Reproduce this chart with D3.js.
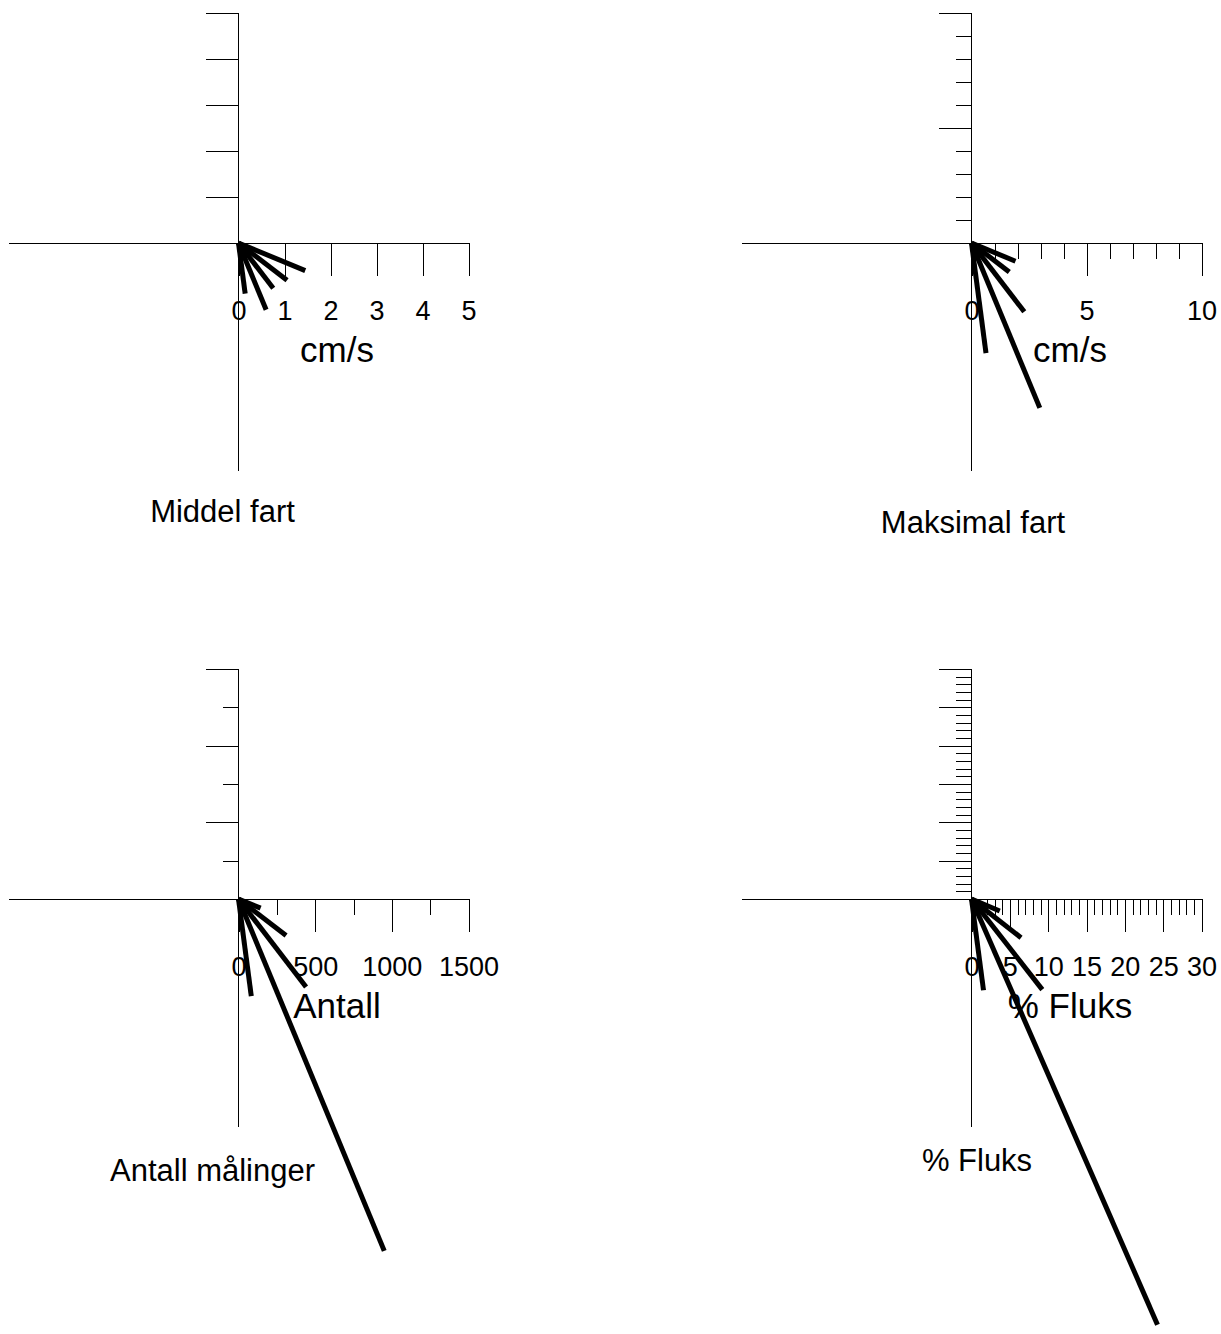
<!DOCTYPE html>
<html>
<head>
<meta charset="utf-8">
<script src="https://cdn.jsdelivr.net/npm/d3@7"></script>
<style>
  body { margin: 0; background: #fff; }
  svg text { font-family: "Liberation Sans", Arial, sans-serif; fill: #000; }
</style>
</head>
<body>
<svg id="chart" width="1221" height="1334"></svg>
<script>
// sector directions, compass degrees (15 degree sectors)
const directions     = [112.5, 127.5, 142.5, 157.5, 172.5];
// flux vectors come out a touch off the sector centre
const fluxDirections = [113, 128, 142, 156.4, 172.5];

// values per sector
const meanSpeed = [1.57, 1.33, 1.24, 1.57, 1.11];    // cm/s
const maxSpeed  = [2.07, 2.07, 3.77, 7.76, 4.83];    // cm/s
const counts    = [156, 391, 724, 2484, 639];        // antall
const fluxPct   = [4.0, 8.2, 15.0, 60.6, 12.0];      // % fluks

// tick labels
const meanTicks  = [0, 1, 2, 3, 4, 5];
const maxTicks   = [0, 5, 10];
const countTicks = [0, 500, 1000, 1500];
const fluxTicks  = [0, 5, 10, 15, 20, 25, 30];

const R = 230;          // axis radius in px
const MAJOR = 33, MINOR = 16;

const panels = [
  { values: meanSpeed, dirs: directions,     ticks: meanTicks,  minor: 1,   unit: 'cm/s',
    caption: 'Middel fart',     cx: 238.5, cy: 243, capX: 222.5, capY: 522 },
  { values: maxSpeed,  dirs: directions,     ticks: maxTicks,   minor: 1,   unit: 'cm/s',
    caption: 'Maksimal fart',   cx: 971.5, cy: 243, capX: 973,   capY: 533 },
  { values: counts,    dirs: directions,     ticks: countTicks, minor: 250, unit: 'Antall',
    caption: 'Antall målinger', cx: 238.5, cy: 899, capX: 212.5, capY: 1181 },
  { values: fluxPct,   dirs: fluxDirections, ticks: fluxTicks,  minor: 1,   unit: '% Fluks',
    caption: '% Fluks',         cx: 971.5, cy: 899, capX: 977,   capY: 1171 }
];

const svg = d3.select('#chart');

panels.forEach(p => drawPanel(p));

function drawPanel(p) {
  const max = p.ticks[p.ticks.length - 1];
  const x = d3.scaleLinear().domain([0, max]).range([0, R]);
  const y = d3.scaleLinear().domain([0, max]).range([0, -R]);
  const minorTicks = d3.range(0, max + p.minor / 2, p.minor);

  const g = svg.append('g')
    .attr('class', 'panel')
    .attr('transform', `translate(${p.cx},${p.cy})`);

  // cross
  g.append('line')
    .attr('x1', -R).attr('x2', R).attr('y1', 0).attr('y2', 0)
    .attr('stroke', '#000').attr('shape-rendering', 'crispEdges');
  g.append('line')
    .attr('x1', 0).attr('x2', 0).attr('y1', -R).attr('y2', R - 2)
    .attr('stroke', '#000').attr('shape-rendering', 'crispEdges');

  // minor ticks
  const minorX = g.append('g')
    .call(d3.axisBottom(x).tickValues(minorTicks).tickSize(MINOR).tickSizeOuter(0).tickFormat(''));
  const minorY = g.append('g')
    .call(d3.axisLeft(y).tickValues(minorTicks).tickSize(MINOR).tickSizeOuter(0).tickFormat(''));

  // major ticks, labels only on the x axis
  const majorX = g.append('g')
    .call(d3.axisBottom(x).tickValues(p.ticks).tickSize(MAJOR).tickSizeOuter(0)
      .tickFormat(d3.format('d')));
  const majorY = g.append('g')
    .call(d3.axisLeft(y).tickValues(p.ticks).tickSize(MAJOR).tickSizeOuter(0).tickFormat(''));

  [minorX, minorY, majorX, majorY].forEach(a => {
    a.select('.domain').remove();
    a.attr('font-family', null).attr('font-size', null);
    a.selectAll('line').attr('stroke', '#000').attr('shape-rendering', 'crispEdges');
  });

  majorX.selectAll('text')
    .attr('y', 77).attr('dy', null)
    .attr('font-size', 27)
    .attr('fill', '#000');

  g.append('text')
    .attr('x', 98.5).attr('y', 119)
    .attr('text-anchor', 'middle')
    .attr('font-size', 35)
    .text(p.unit);

  // sector vectors
  g.selectAll('.ray')
    .data(p.values.map((v, i) => ({ v, dir: p.dirs[i] })))
    .enter().append('line')
      .attr('class', 'ray')
      .attr('x1', 0).attr('y1', 0)
      .attr('x2', d => x(d.v) * Math.sin(d.dir * Math.PI / 180))
      .attr('y2', d => y(d.v) * Math.cos(d.dir * Math.PI / 180))
      .attr('stroke', '#000')
      .attr('stroke-width', 5)
      .attr('stroke-linecap', 'butt');

  svg.append('text')
    .attr('x', p.capX).attr('y', p.capY)
    .attr('text-anchor', 'middle')
    .attr('font-size', 31)
    .text(p.caption);
}
</script>
</body>
</html>
